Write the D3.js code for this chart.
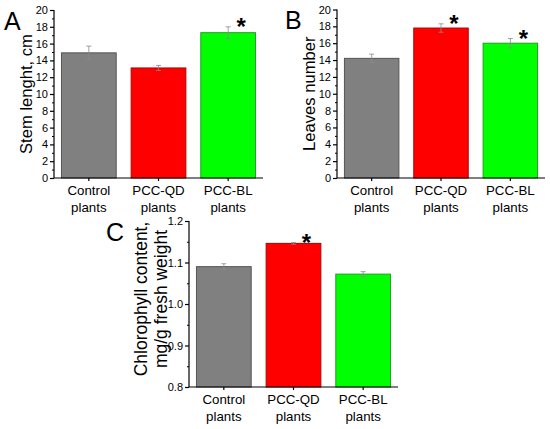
<!DOCTYPE html>
<html><head><meta charset="utf-8">
<script src="https://cdn.jsdelivr.net/npm/d3@7/dist/d3.min.js"></script>
<style>
body{margin:0;background:#fff;}
svg{display:block;font-family:"Liberation Sans",Arial,sans-serif;}
</style></head>
<body><svg id="c" width="550" height="429"></svg>
<script>
const categories = ["Control|plants", "PCC-QD|plants", "PCC-BL|plants"];
const colors = ["#808080", "#ff0000", "#00ff00"];
const strokes = ["#555555", "#b00000", "#20a020"];

const stemValues = [14.9, 13.1, 17.3];
const stemErrors = [0.8, 0.3, 0.7];
const stemStars = [false, false, true];

const leavesValues = [14.2, 17.8, 16.0];
const leavesErrors = [0.5, 0.5, 0.55];
const leavesStars = [false, true, true];

const chlValues = [1.090, 1.146, 1.072];
const chlErrors = [0.007, 0.002, 0.006];
const chlStars = [false, true, false];

const stemTicks = [0, 2, 4, 6, 8, 10, 12, 14, 16, 18, 20];
const chlTicks = [0.8, 0.9, 1.0, 1.1, 1.2];

const svg = d3.select("#c");

function panel(o) {
  const g = svg.append("g");
  const x = d3.scaleBand().domain(categories).range([o.x0, o.x1]).paddingInner(0.2).paddingOuter(0.1);
  const y = d3.scaleLinear().domain(o.domain).range([o.y1, o.y0]);

  // bars
  g.selectAll("rect.bar").data(o.values).enter().append("rect")
    .attr("x", (d, i) => x(categories[i]) + 0.5)
    .attr("y", d => y(d))
    .attr("width", x.bandwidth() - 1)
    .attr("height", d => y(o.domain[0]) - y(d))
    .attr("fill", (d, i) => colors[i])
    .attr("stroke", (d, i) => strokes[i])
    .attr("stroke-width", 1);

  // error bars
  o.values.forEach((v, i) => {
    const cx = x(categories[i]) + x.bandwidth() / 2;
    const e = o.errors[i];
    const eg = g.append("g").attr("stroke", "#8a8a8a").attr("stroke-width", 0.8);
    eg.append("line").attr("x1", cx).attr("x2", cx).attr("y1", y(v - e)).attr("y2", y(v + e));
    eg.append("line").attr("x1", cx - 2.5).attr("x2", cx + 2.5).attr("y1", y(v + e)).attr("y2", y(v + e));
    eg.append("line").attr("x1", cx - 2.5).attr("x2", cx + 2.5).attr("y1", y(v - e)).attr("y2", y(v - e));
    if (o.stars[i]) {
      g.append("text").attr("x", cx + 13).attr("y", y(v + e) + 8)
        .attr("text-anchor", "middle").attr("font-size", 24).attr("font-weight", "bold")
        .attr("fill", "#000").text("*");
    }
  });

  // y axis
  const minor = o.minorTicks;
  const yAxis = d3.axisLeft(y).tickValues(o.ticks).tickSize(4).tickPadding(2).tickFormat(o.fmt);
  const ya = g.append("g").attr("transform", `translate(${o.x0},0)`).call(yAxis);
  ya.select(".domain").attr("stroke-width", 1.2).attr("d", `M0,${o.y1}V${o.y0}`);
  ya.selectAll("text").attr("font-size", 11).attr("fill", "#000");
  ya.selectAll(".tick line").attr("stroke-width", 1.2);
  g.append("g").attr("transform", `translate(${o.x0},0)`)
    .call(d3.axisLeft(y).tickValues(minor).tickSize(2).tickFormat(""))
    .call(s => s.select(".domain").remove());

  // x axis
  const xAxis = d3.axisBottom(x).tickSize(3).tickFormat("");
  const xa = g.append("g").attr("transform", `translate(0,${o.y1})`).call(xAxis);
  xa.select(".domain").attr("stroke-width", 1.2).attr("d", `M${o.x0},0H${o.x1}`);
  xa.selectAll(".tick line").attr("stroke-width", 1.2);
  categories.forEach(c => {
    const parts = c.split("|");
    const t = g.append("text").attr("x", x(c) + x.bandwidth() / 2).attr("y", o.y1 + 17)
      .attr("text-anchor", "middle").attr("font-size", 13.3).attr("fill", "#000");
    t.append("tspan").attr("x", x(c) + x.bandwidth() / 2).attr("dy", 0).text(parts[0]);
    t.append("tspan").attr("x", x(c) + x.bandwidth() / 2).attr("dy", 16.5).text(parts[1]);
  });

  // y title
  const cy = (o.y0 + o.y1) / 2;
  o.title.forEach((line, k) => {
    g.append("text").attr("transform", `translate(${o.titleX + k * o.titleGap},${cy + (o.titleShift || 0)}) rotate(-90)`)
      .attr("text-anchor", "middle").attr("font-size", o.titleSize).attr("fill", "#000").text(line);
  });

  // panel letter
  g.append("text").attr("x", o.lx).attr("y", o.ly).attr("font-size", 25).attr("fill", "#000").text(o.letter);
}

const minorStem = d3.range(1, 20, 2);
const minorChl = [0.85, 0.95, 1.05, 1.15];

panel({x0: 54, x1: 263, y0: 10, y1: 178, domain: [0, 20], values: stemValues, errors: stemErrors, stars: stemStars,
  ticks: stemTicks, minorTicks: minorStem, fmt: d3.format("d"), title: ["Stem lenght, cm"], titleX: 32, titleGap: 0,
  titleSize: 16.6, letter: "A", lx: 4, ly: 30});
panel({x0: 337, x1: 545, y0: 9.5, y1: 178, domain: [0, 20], values: leavesValues, errors: leavesErrors, stars: leavesStars,
  ticks: stemTicks, minorTicks: minorStem, fmt: d3.format("d"), title: ["Leaves number"], titleX: 315, titleGap: 0,
  titleSize: 16.6, letter: "B", lx: 285, ly: 28.5});
panel({x0: 189, x1: 398, y0: 221, y1: 387, domain: [0.8, 1.2], values: chlValues, errors: chlErrors, stars: chlStars,
  ticks: chlTicks, minorTicks: minorChl, fmt: d3.format(".1f"), title: ["Chlorophyll content,", "mg/g fresh weight"], titleX: 147, titleGap: 20,
  titleShift: -5, titleSize: 17.5, letter: "C", lx: 106, ly: 241});
</script></body></html>
